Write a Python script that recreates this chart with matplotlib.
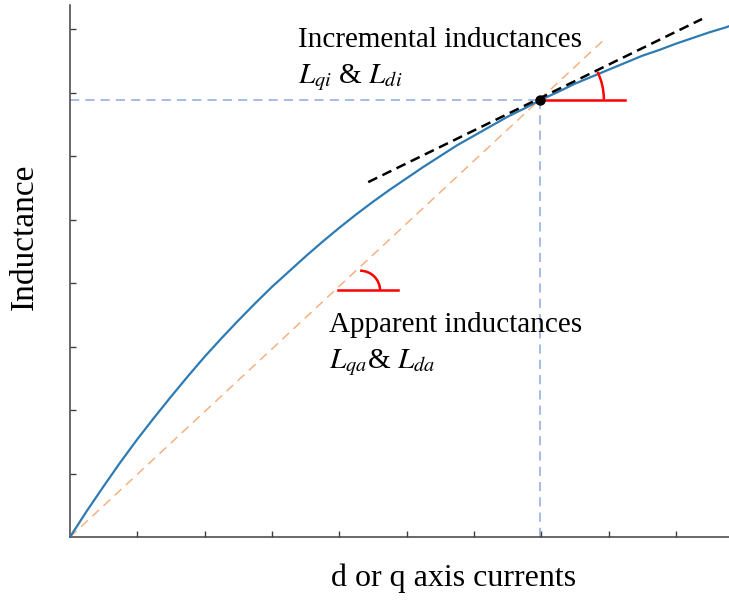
import numpy as np
import matplotlib
matplotlib.use("Agg")
import matplotlib.pyplot as plt
from matplotlib.patches import Arc

plt.rcParams["font.family"] = "Liberation Serif"
plt.rcParams["mathtext.fontset"] = "stix"

# saturation curve (axis units = tick spacing)
curve_x = [0, 0.25, 0.5, 0.75, 1.0, 1.25, 1.5, 1.75, 2.0, 2.25, 2.5, 2.75,
           3.0, 3.25, 3.5, 3.75, 4.0, 4.25, 4.5, 4.75, 5.0, 5.25, 5.5, 5.75,
           6.0, 6.25, 6.5, 6.75, 7.0, 7.25, 7.5, 7.75, 8.0, 8.25, 8.5, 8.75,
           9.0, 9.25, 9.5, 9.75, 9.8]
curve_y = [0, 0.41, 0.80, 1.18, 1.54, 1.88, 2.21, 2.53, 2.84, 3.13, 3.41, 3.68,
           3.94, 4.18, 4.42, 4.65, 4.87, 5.08, 5.28, 5.47, 5.65, 5.83, 6.00, 6.17,
           6.32, 6.47, 6.62, 6.75, 6.89, 7.01, 7.14, 7.25, 7.36, 7.47, 7.58, 7.67,
           7.77, 7.86, 7.95, 8.03, 8.05]

# operating point
op_x = 6.98
op_y = 6.89

# tangent (incremental) and secant (apparent) lines
tangent_x = [4.43, 9.39]
tangent_y = [5.59, 8.16]
secant_x = [0, 7.95]
secant_y = [0, 7.85]

# red angle markers
inc_line_x = [6.98, 8.24]
app_line_x = [3.98, 4.87]
app_line_y = 3.89
app_arc_center = (4.31, 3.88)

x_ticks = [1, 2, 3, 4, 5, 6, 7, 8, 9]
y_ticks = [1, 2, 3, 4, 5, 6, 7, 8]

fig = plt.figure(figsize=(7.29, 6.01), dpi=100)
ax = fig.add_axes([70 / 729, 64 / 601, 659 / 729, 532 / 601])
ax.set_xlim(0, 9.79)
ax.set_ylim(0, 8.38)

# pixel scale of the axes (px per unit)
sx = 67.3
sy = 63.5

# guide lines to the operating point
ax.plot([0, op_x], [op_y, op_y], color="#8fa9dc", lw=1.1, dashes=(6, 4), zorder=1)
ax.plot([op_x, op_x], [0, op_y], color="#8fa9dc", lw=1.1, dashes=(6, 4), zorder=1)

ax.plot(secant_x, secant_y, color="#f4b183", lw=1.1, dashes=(6, 4), zorder=2)
ax.plot(curve_x, curve_y, color="#2e7bb4", lw=1.6, zorder=3)
ax.plot(tangent_x, tangent_y, color="black", lw=1.8, dashes=(4, 2.3), zorder=4)

ax.plot(inc_line_x, [op_y, op_y], color="red", lw=1.8, zorder=5)
ax.add_patch(Arc((op_x, op_y), 2 * 64 / sx, 2 * 64 / sy, theta1=0, theta2=27,
                 color="red", lw=1.8, zorder=5))
ax.plot(app_line_x, [app_line_y, app_line_y], color="red", lw=1.8, zorder=5)
ax.add_patch(Arc(app_arc_center, 2 * 20 / sx, 2 * 20 / sy, theta1=0, theta2=90,
                 color="red", lw=1.8, zorder=5))

ax.plot(op_x, op_y, "o", color="black", ms=6.5, zorder=6)

ax.text(3.385, 7.83, "Incremental inductances", fontsize=21, va="center")
ax.text(3.385, 7.23, r"$L_{qi}$ & $L_{di}$", fontsize=21, va="center")
ax.text(3.845, 3.34, "Apparent inductances", fontsize=21, va="center")
ax.text(3.845, 2.74, r"$L_{qa}$& $L_{da}$", fontsize=21, va="center")

ax.set_xticks(x_ticks)
ax.set_yticks(y_ticks)
ax.set_xticklabels([])
ax.set_yticklabels([])
ax.tick_params(direction="in", length=4.3, width=1.0, color="#404040")
for side in ["top", "right"]:
    ax.spines[side].set_visible(False)
for side in ["left", "bottom"]:
    ax.spines[side].set_color("#404040")
    ax.spines[side].set_linewidth(1.1)

fig.text(25 / 729, 1 - 237 / 601, "Inductance", fontsize=24, rotation=90,
         ha="center", va="center")
fig.text(454 / 729, 1 - 578 / 601, "d or q axis currents", fontsize=23,
         ha="center", va="center")

fig.savefig("out.png", dpi=100)
